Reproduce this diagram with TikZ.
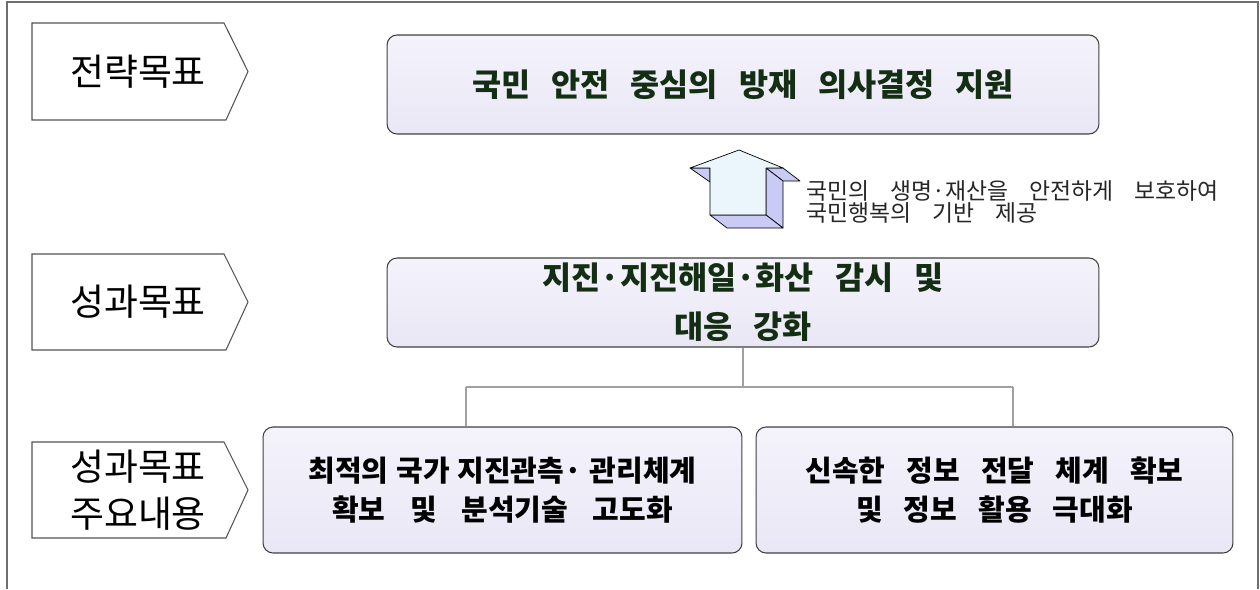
\documentclass[tikz,border=0pt]{standalone}
\usepackage{fontspec}
\setmainfont{Noto Sans CJK KR}
\definecolor{framecol}{HTML}{6E6E6E}
\definecolor{boxline}{HTML}{404040}
\definecolor{boxtop}{HTML}{F4F3FB}
\definecolor{boxbot}{HTML}{E9E7F5}
\definecolor{greentext}{HTML}{142E14}
\definecolor{arrowface}{HTML}{EAF6FC}
\definecolor{arrowside}{HTML}{CACAF7}
\definecolor{conncol}{HTML}{A0A0A0}
\begin{document}
\begin{tikzpicture}[x=0.02cm,y=-0.02cm,
  wsp/.style={execute at begin node={\spaceskip=#1\relax}},
  pentline/.style={draw=boxline!90, line width=0.6pt, fill=white},
  penttext/.style={inner sep=0pt, align=center, font=\fontsize{21}{26.5}\selectfont},
  goalbox/.style={draw=boxline, line width=0.6pt, rounded corners=0.2cm, top color=boxtop, bottom color=boxbot, align=center, inner sep=0pt},
  conn/.style={draw=conncol, line width=0.8pt},
  aside/.style={draw=black, line width=0.4pt, fill=arrowside, line join=round},
  aface/.style={draw=black, line width=0.4pt, fill=arrowface, line join=round}]
\useasboundingbox (0,0) rectangle (1260,589);
\fill[white] (0,0) rectangle (1260,589);
% frame
\draw[framecol, line width=1.4pt] (7,589) -- (7,2) -- (1258,2) -- (1258,589);

% pentagons (left labels)
\draw[pentline] (32,23) -- (224,23) -- (248,71.5) -- (226,120) -- (32,120) -- cycle;
\node[penttext] (p1) at (138,72) {전략목표};
\draw[pentline] (32,254) -- (224,254) -- (248,302) -- (226,350) -- (32,350) -- cycle;
\node[penttext] (p2) at (138,302) {성과목표};
\draw[pentline] (32,442) -- (224,442) -- (248,490) -- (226,538) -- (32,538) -- cycle;
\node[penttext] (p3) at (138,490) {성과목표\\주요내용};

% goal boxes
\node[goalbox, wsp=12pt, minimum width=14.24cm, minimum height=1.98cm, text=greentext,
      font=\bfseries\fontsize{18}{22}\selectfont] (b1) at (743,84.5)
      {국민 안전 중심의 방재 의사결정 지원};
\node[goalbox, wsp=12pt, minimum width=14.24cm, minimum height=1.78cm, text=greentext,
      font=\bfseries\fontsize{18}{27.8}\selectfont] (b2) at (743,302.5)
      {지진·지진해일·화산 감시 및\\대응 강화};
\node[goalbox, wsp=14pt, minimum width=9.58cm, minimum height=2.52cm, text=black,
      font=\bfseries\fontsize{16.5}{21.8}\selectfont] (b3) at (502.5,490)
      {{\spaceskip=4.5pt\relax 최적의 국가 지진관측· 관리체계}\\확보 및 분석기술 고도화};
\node[goalbox, wsp=12pt, minimum width=9.54cm, minimum height=2.52cm, text=black,
      font=\bfseries\fontsize{16.5}{21.8}\selectfont] (b4) at (994.5,490)
      {신속한 정보 전달 체계 확보\\및 정보 활용 극대화};

% connectors
\coordinate (jl) at (466,387);
\coordinate (jr) at (1013,387);
\draw[conn] (b2.south) -- (b2.south |- jl);
\draw[conn] (jl) -- (jr);
\draw[conn] (jl) -- (jl |- b3.north);
\draw[conn] (jr) -- (jr |- b4.north);

% 3D up arrow
\draw[aside] (690,168) -- (710,168) -- (710,182) -- cycle;
\draw[aside] (766,168) -- (783,168) -- (800,181) -- (783,181) -- cycle;
\draw[aside] (766,168) -- (766,215) -- (783,228) -- (783,181) -- cycle;
\draw[aside] (710,215) -- (766,215) -- (783,228) -- (727,228) -- cycle;
\draw[aface] (739,150) -- (783,168) -- (766,168) -- (766,215) -- (710,215) -- (710,168) -- (690,168) -- cycle;
\node[wsp=12pt, anchor=west, inner sep=0pt, align=left, text=black!85,
      font=\fontsize{13}{12.5}\selectfont] (at) at (806,202)
      {국민의 생명·재산을 안전하게 보호하여\\국민행복의 기반 제공};
\end{tikzpicture}
\end{document}
